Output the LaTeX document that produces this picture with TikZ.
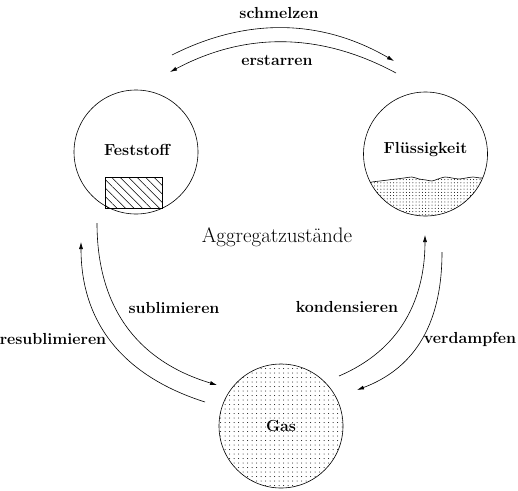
\documentclass[tikz,border=0pt]{standalone}
\usetikzlibrary{patterns.meta,arrows.meta}
\begin{document}
\begin{tikzpicture}[x=1pt,y=-1pt,
  state/.style={circle,draw,line width=0.6pt,minimum size=124pt,inner sep=0pt,font=\fontsize{16}{19}\selectfont\bfseries},
  lbl/.style={font=\fontsize{16}{19}\selectfont\bfseries,inner sep=0pt},
  arc/.style={line width=0.6pt,-{Latex[length=7pt,width=4pt]}}]
\useasboundingbox (0,0) rectangle (518,490);
% states
\node[state] (F) at (136,152) {};
\node[state,draw=none] (L) at (425.5,154) {};
\node[state,pattern={Dots[distance=4.5pt,radius=0.5pt]}] (G) at (281,426) {Gas};
% solid block
\draw[line width=0.6pt,pattern={Lines[angle=-45,distance=6pt,line width=0.5pt]}] (105,177) rectangle (162,208);
% liquid
\begin{scope}
\clip (L) circle (62pt);
\fill[pattern={Dots[distance=3.2pt,radius=0.5pt]}] plot[smooth] coordinates {(360,185) (366,184) (372,182) (380,181) (388,180) (396,179) (404,178) (412,177) (419,179) (426,180) (432,181) (438,179) (445,177) (452,178) (459,179) (466,178) (473,177) (480,178) (486,178) (492,179)} -- (492,230) -- (360,230) -- cycle;
\draw[line width=0.6pt] plot[smooth] coordinates {(360,185) (366,184) (372,182) (380,181) (388,180) (396,179) (404,178) (412,177) (419,179) (426,180) (432,181) (438,179) (445,177) (452,178) (459,179) (466,178) (473,177) (480,178) (486,178) (492,179)};
\end{scope}
\node[state] (Lc) at (L) {};
\node[lbl] at (137,150) {Feststoff};
\node[lbl] at (425.5,150) {Flüssigkeit};
\node[inner sep=0pt,font=\fontsize{21}{25}\selectfont] (T) at (277,237) {Aggregatzustände};
% endpoints
\coordinate (s1) at (172,55); \coordinate (s2) at (394,61);
\coordinate (e1) at (396,73); \coordinate (e2) at (170,72);
\coordinate (u1) at (97,223); \coordinate (u2) at (217,385);
\coordinate (r1) at (205,402); \coordinate (r2) at (81,242);
\coordinate (k1) at (339,376); \coordinate (k2) at (425,235);
\coordinate (v1) at (442,252); \coordinate (v2) at (357,390);
% arcs
\draw[arc] (s1) .. controls (245,18) and (320,18) .. (s2);
\draw[arc] (e1) .. controls (320,32) and (245,32) .. (e2);
\draw[arc] (u1) .. controls (97,320) and (150,365) .. (u2);
\draw[arc] (r1) .. controls (120,375) and (81,320) .. (r2);
\draw[arc] (k1) .. controls (400,350) and (425,300) .. (k2);
\draw[arc] (v1) .. controls (442,330) and (410,370) .. (v2);
% labels
\node[lbl] at (279,13) {schmelzen};
\node[lbl] at (277,60) {erstarren};
\node[lbl] at (174,308) {sublimieren};
\node[lbl] at (53,339) {resublimieren};
\node[lbl] at (347,307) {kondensieren};
\node[lbl] at (470,339) {verdampfen};
\end{tikzpicture}
\end{document}
